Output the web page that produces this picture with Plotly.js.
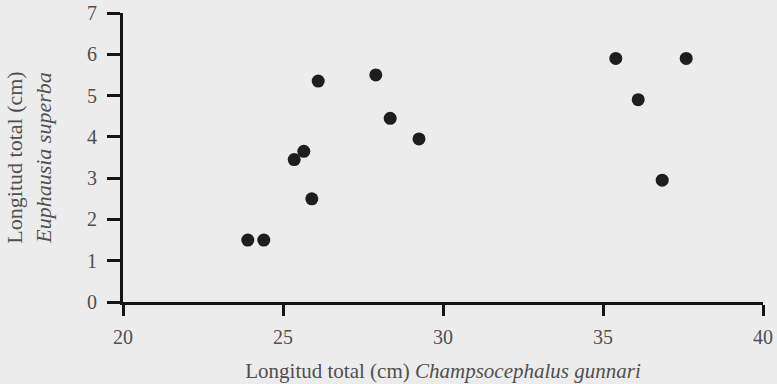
<!DOCTYPE html>
<html>
<head>
<meta charset="utf-8">
<script src="https://cdn.plot.ly/plotly-3.0.1.min.js"></script>
<style>html,body{margin:0;padding:0;background:#ececec;}</style>
</head>
<body>
<div id="chart" style="width:777px;height:384px;"></div>
<script>
// Data
const fishLength = [23.9, 24.4, 25.35, 25.65, 25.9, 26.1, 27.9, 28.35, 29.25, 35.4, 36.1, 36.85, 37.6];
const krillLength = [1.5, 1.5, 3.45, 3.65, 2.5, 5.35, 5.5, 4.45, 3.95, 5.9, 4.9, 2.95, 5.9];
const xTicks = [20, 25, 30, 35, 40];
const yTicks = [0, 1, 2, 3, 4, 5, 6, 7];

const fam = 'Liberation Serif, Times New Roman, serif';
const txt = '#4f4f4f';

Plotly.newPlot('chart', [{
  type: 'scatter',
  mode: 'markers',
  x: fishLength,
  y: krillLength,
  marker: {size: 13, color: '#1e1e1e'},
  hoverinfo: 'skip'
}], {
  width: 777, height: 384,
  paper_bgcolor: '#ececec',
  plot_bgcolor: '#ececec',
  font: {family: fam, size: 20, color: txt},
  showlegend: false,
  margin: {l: 123, r: 14, t: 13, b: 82},
  xaxis: {
    range: [20, 40],
    tickvals: xTicks,
    ticktext: xTicks.map(String),
    showgrid: false, zeroline: false,
    showline: true, linecolor: '#151515', linewidth: 3,
    ticks: 'outside', ticklen: 11, tickwidth: 3, tickcolor: '#151515',
    ticklabelstandoff: 4,
    tickfont: {family: fam, size: 20, color: txt},
    title: {text: 'Longitud total (cm) <i>Champsocephalus gunnari</i>', font: {family: fam, size: 21, color: txt}, standoff: 17}
  },
  yaxis: {
    range: [0, 7],
    tickvals: yTicks,
    ticktext: yTicks.map(String),
    showgrid: false, zeroline: false,
    showline: true, linecolor: '#151515', linewidth: 3,
    ticks: 'outside', ticklen: 13, tickwidth: 3, tickcolor: '#151515',
    ticklabelstandoff: 6,
    tickfont: {family: fam, size: 20, color: txt},
    title: {text: 'Longitud total (cm)<br><i>Euphausia superba</i>', font: {family: fam, size: 22, color: txt}, standoff: 30}
  }
}, {staticPlot: true});
</script>
</body>
</html>
